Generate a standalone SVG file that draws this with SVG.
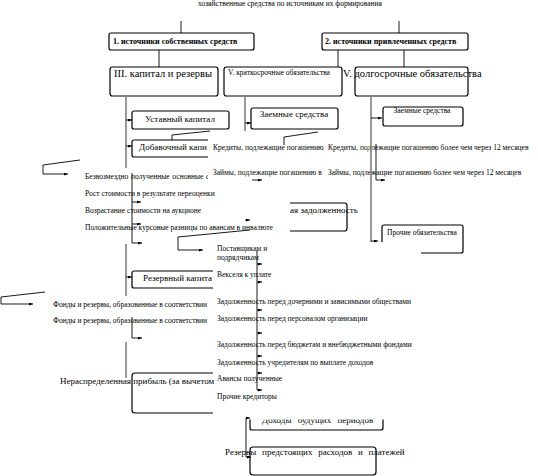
<svg xmlns="http://www.w3.org/2000/svg" width="538" height="476" viewBox="0 0 538 476">
<defs>
<marker id="ah" markerWidth="4" markerHeight="3" refX="4" refY="1.5" orient="auto" markerUnits="userSpaceOnUse">
<path d="M0,0 L4,1.5 L0,3 z" fill="#000"/>
</marker>
</defs>
<style>
text{font-family:"Liberation Serif","Times New Roman",serif;fill:#000}
.s{font-size:7.5px}
.m{font-size:9px}
.l{font-size:10.5px}
.b{font-weight:bold;font-size:8px}
.box{fill:#fff;stroke:#000;stroke-width:1.2}
.frame{fill:#fff;stroke:none}
.trunk{stroke:#808080;stroke-width:1.6;fill:none}
.ln{stroke:#000;stroke-width:0.9;fill:none}
.ar{stroke:#000;stroke-width:0.9;fill:none;marker-end:url(#ah)}
</style>
<rect width="538" height="476" fill="#fff"/>

<g id="n-title"><text class="s" x="290" y="5.5" text-anchor="middle">хозяйственные средства по источникам их формирования</text></g>

<g id="n-own"><rect class="box" x="109" y="33" width="145" height="17" rx="2"/><text class="b" x="113" y="44">1. источники собственных средств</text></g>
<g id="n-borrowed"><rect class="box" x="322" y="33" width="146" height="17" rx="2"/><text class="b" x="325" y="44">2. источники привлеченных средств</text></g>

<g id="n-capital"><rect class="box" x="110" y="67" width="108" height="29" rx="2.5"/><text class="l" x="114" y="76.5">III. капитал и резервы</text></g>
<g id="n-short"><rect class="box" x="224" y="67" width="118" height="29" rx="2.5"/><text class="s" x="228" y="75">V. краткосрочные обязательства</text></g>
<g id="n-long"><rect class="box" x="355" y="67" width="113" height="29" rx="2.5"/><text class="l" x="343" y="77">V. долгосрочные обязательства</text></g>

<g id="n-ustav"><rect class="box" x="132" y="111" width="97" height="18" rx="2"/><text class="m" x="180" y="121.5" text-anchor="middle">Уставный капитал</text></g>
<g id="n-dobav"><rect class="box" x="132" y="140" width="100" height="17" rx="2"/><text class="m" x="139" y="150">Добавочный капи</text></g>
<g id="n-zaem-short"><rect class="box" x="251" y="108" width="87" height="21" rx="2"/><text class="m" x="294" y="117" text-anchor="middle">Заемные средства</text></g>
<g id="n-zaem-long"><rect class="box" x="383" y="107" width="80" height="19" rx="2"/><text class="s" x="422" y="113" text-anchor="middle">Заемные средства</text></g>
<g id="n-kredzad"><rect class="box" x="240" y="203" width="107" height="28" rx="2.5"/><text class="m" x="290" y="213">ая задолженность</text></g>
<g id="n-prochie-ob"><rect class="box" x="382" y="225" width="81" height="28" rx="2"/><text class="s" x="387" y="235">Прочие обязательства</text></g>
<g id="n-rezerv"><rect class="box" x="132" y="271" width="100" height="17" rx="2"/><text class="m" x="143" y="281">Резервный капита</text></g>
<g id="n-neraspr"><rect class="box" x="132" y="373" width="110" height="40" rx="3"/></g>
<g id="n-dohody"><rect class="box" x="250" y="395" width="133" height="35" rx="2"/><text class="m" x="262" y="422.5" style="word-spacing:4px">Доходы будущих периодов</text></g>
<g id="n-rezervy-pl"><rect class="box" x="250" y="447" width="126" height="28" rx="3"/></g>

<g id="n-addcap">
<rect class="frame" x="83" y="168" width="207" height="75"/>
<text class="s" x="85" y="179" style="word-spacing:0.8px">Безвозмездно полученные основные с</text>
<text class="s" x="85" y="196">Рост стоимости в результате переоценки</text>
<text class="s" x="85" y="213">Возрастание стоимости на аукционе</text>
<text class="s" x="85" y="230">Положительные курсовые разницы по авансам в инвалюте</text>
</g>
<g id="n-short-credits">
<rect class="frame" x="208" y="131" width="119" height="55"/>
<text class="s" x="213" y="150">Кредиты, подлежащие погашению</text>
<text class="s" x="213" y="175">Займы, подлежащие погашению в</text>
</g>
<g id="n-long-credits">
<rect class="frame" x="327" y="139" width="211" height="42"/>
<text class="s" x="328" y="150">Кредиты, подлежащие погашению более чем через 12 месяцев</text>
<text class="s" x="328" y="175">Займы, подлежащие погашению более чем через 12 месяцев</text>
</g>
<g id="n-funds">
<rect class="frame" x="50" y="296" width="163" height="46"/>
<text class="s" x="53" y="307">Фонды и резервы, образованные в соответствии</text>
<text class="s" x="53" y="323">Фонды и резервы, образованные в соответствии</text>
</g>
<g id="n-creditors">
<rect class="frame" x="213" y="242" width="208" height="177.5"/>
<text class="s" x="217" y="251">Поставщикам и</text>
<text class="s" x="217" y="260">подрядчикам</text>
<text class="s" x="217" y="277">Векселя к уплате</text>
<text class="s" x="217" y="304">Задолженность перед дочерними и зависимыми обществами</text>
<text class="s" x="217" y="321">Задолженность перед персоналом организации</text>
<text class="s" x="217" y="347">Задолженность перед бюджетам и внебюджетными фондами</text>
<text class="s" x="217" y="365">Задолженность учредителям по выплате доходов</text>
<text class="s" x="217" y="381">Авансы полученные</text>
<text class="s" x="217" y="399">Прочие кредиторы</text>
</g>
<g id="n-neraspr-label"><text class="m" x="60" y="384">Нераспределенная прибыль (за вычетом</text></g>
<g id="n-rezervy-label"><text class="m" x="225" y="455" style="word-spacing:3.5px">Резервы предстоящих расходов и платежей</text></g>

<g id="connectors">
<path class="ln" d="M181,21V33M399,21V33M159,50V67M338,50V67M404,50V67"/>
<path class="trunk" d="M126,96V168M126,244V296M126,342V378M245,96V131M371,96V242"/>
<path class="ar" d="M126,120H132"/>
<path class="ar" d="M126,146H132"/>
<path class="ar" d="M126,277H132"/>
<path class="ar" d="M245,123H251"/>
<path class="ar" d="M371,118H382"/>
<path class="ar" d="M371,241H378"/>
<path class="ln" d="M80,160L43,165V174"/><path class="ar" d="M43,174H68"/>
<path class="ln" d="M210,131L172,135V140"/>
<path class="ln" d="M318,132L284,137V145"/>
<path class="ln" d="M45,292L1,297V304"/><path class="ar" d="M1,304H33"/>
<path class="ln" d="M250,230L178,237V250"/><path class="ar" d="M178,250H203"/>
<path class="ln" d="M132,173V243"/>
<path class="ar" d="M132,202H141"/><path class="ar" d="M132,224H141"/><path class="ar" d="M132,243H142"/>
<path class="ln" d="M132,317V338"/><path class="ar" d="M132,338H142"/>
<path class="ar" d="M252,180H262"/>
<path class="ar" d="M245,220H250"/>
<path class="ln" d="M376,144V180"/><path class="ar" d="M376,180H385"/>
<path class="ln" d="M257,250V390"/>
<path class="ar" d="M257,264H262"/><path class="ar" d="M257,282H262"/><path class="ar" d="M257,310H262"/><path class="ar" d="M257,333H262"/><path class="ar" d="M257,356H262"/><path class="ar" d="M257,373H262"/><path class="ar" d="M257,390H262"/>
<path class="ln" d="M246,418V457"/><path class="ar" d="M246,418H250"/><path class="ar" d="M246,457H251"/>
</g>
</svg>
